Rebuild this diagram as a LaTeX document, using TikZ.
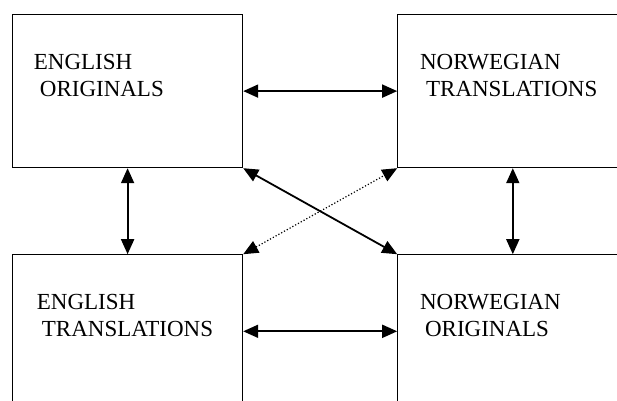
\documentclass[tikz,border=0pt]{standalone}
\usepackage{fontspec}
\setmainfont{Liberation Serif}
\usepackage{tikz}
\usetikzlibrary{positioning}
\usetikzlibrary{arrows.meta}
\tikzset{box/.style={rectangle,draw,line width=1.2pt,minimum width=230pt,minimum height=153pt,inner sep=0pt},
         box text/.style={inner sep=0pt,align=left,font=\fontsize{23}{27}\selectfont},}

\begin{document}
\begin{tikzpicture}[x=1pt, y=-1pt, {Triangle[length=15pt,width=13pt]}-{Triangle[length=15pt,width=13pt]}, line width=1.8pt]
		\useasboundingbox (0,0) rectangle (617,400);
		\clip (0,0) rectangle (617,400);
		\node[box, anchor=north west] (eo) at (12,14) {};
	    \node[box] (nt) [right = 154pt of eo] {};
	    \node[box] (et) [below = 86pt of eo] {};
	    \node[box] (no) [right = 154pt of et] {};

	    \node[box text] (eo text) [below right = 39pt and 21pt of eo.north west] {ENGLISH\\\hspace{6pt}ORIGINALS};
	    \node[box text] (nt text) [below right = 39pt and 22pt of nt.north west] {NORWEGIAN\\\hspace{6pt}TRANSLATIONS};
	    \node[box text] (et text) [below right = 39pt and 24pt of et.north west] {ENGLISH\\\hspace{5pt}TRANSLATIONS};
	    \node[box text] (no text) [below right = 39pt and 22pt of no.north west] {NORWEGIAN\\\hspace{5pt}ORIGINALS};

	    \draw (eo.east) -- (nt.west);
	    \draw (et.east) -- (no.west);
	    \draw (eo.south) -- (et.north);
	    \draw (nt.south) -- (no.north);
	    \draw (eo.south east) -- (no.north west);
	    \draw[line width=1.2pt, dotted] (et.north east) -- (nt.south west);
	\end{tikzpicture}
\end{document}
